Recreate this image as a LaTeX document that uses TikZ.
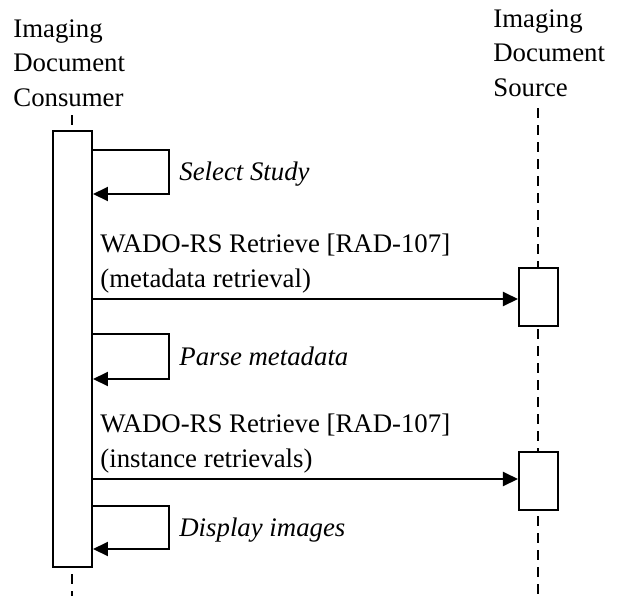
\documentclass[tikz,border=0pt]{standalone}
\usepackage{fontspec}
\setmainfont{Liberation Serif}
\usetikzlibrary{arrows.meta}
\tikzset{
  msg/.style={line width=1pt,-{Triangle[length=7.5pt,width=7pt]}},
  lifeline/.style={line width=1pt,dash pattern=on 5pt off 3.5pt},
  actbox/.style={draw,line width=1pt,fill=white,inner sep=0pt,minimum width=19.5pt},
  lbl/.style={font=\fontsize{13.4}{17.25}\selectfont,inner sep=0pt,anchor=base west,align=left},
  steplbl/.style={lbl,font=\fontsize{13.4}{17.25}\selectfont\itshape},
}
\begin{document}
\begin{tikzpicture}[x=0.5pt,y=-0.5pt]
\useasboundingbox (0,0) rectangle (618,596);
% actors
\node[lbl] (consname) at (13,106) {Imaging\\Document\\Consumer};
\node[lbl] (srcname) at (493,96) {Imaging\\Document\\Source};
\draw[lifeline] (72.5,115) -- (72.5,596);
\draw[lifeline] (538.5,108) -- (538.5,596);
% activations
\node[actbox,minimum height=218pt] (cons) at (72.5,349) {};
\node[actbox,minimum height=29pt] (srcA) at (538.5,297) {};
\node[actbox,minimum height=29pt] (srcB) at (538.5,481) {};
% select study
\draw[msg] (cons.east |- 0,150) -| (169,194) -- (cons.east |- 0,194);
\node[steplbl] (selstudy) at (179,180.5) {Select Study};
% metadata retrieval
\node[lbl] (msgA) at (100,287) {WADO-RS Retrieve [RAD-107]\\(metadata retrieval)};
\draw[msg] (cons.east |- 0,299) -- (srcA.west |- 0,299);
% parse metadata
\draw[msg] (cons.east |- 0,334) -| (169,379) -- (cons.east |- 0,379);
\node[steplbl] (parse) at (179,365) {Parse metadata};
% instance retrievals
\node[lbl] (msgB) at (100,467) {WADO-RS Retrieve [RAD-107]\\(instance retrievals)};
\draw[msg] (cons.east |- 0,479) -- (srcB.west |- 0,479);
% display images
\draw[msg] (cons.east |- 0,506) -| (169,549) -- (cons.east |- 0,549);
\node[steplbl] (display) at (179,536) {Display images};
\end{tikzpicture}
\end{document}
